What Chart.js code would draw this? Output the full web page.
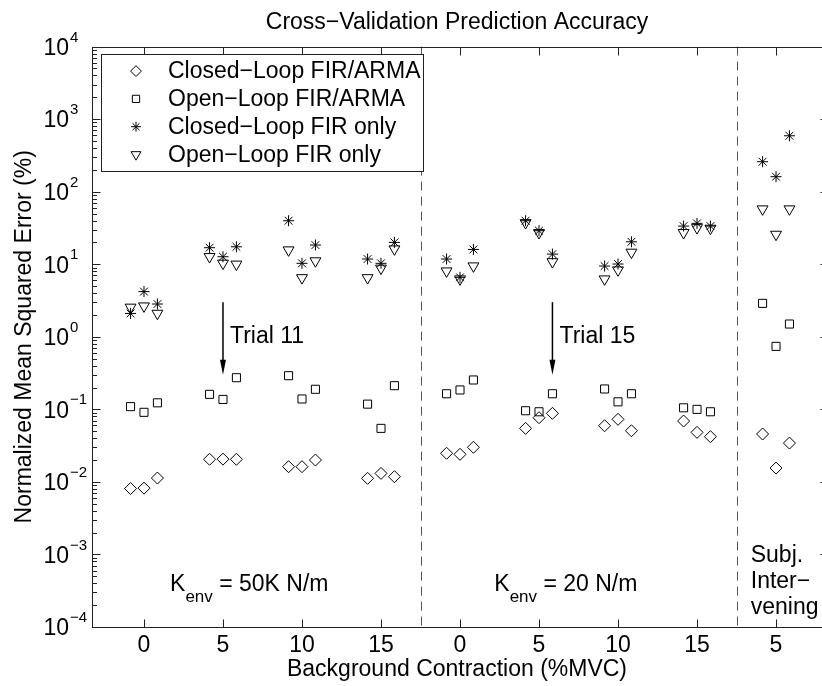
<!DOCTYPE html>
<html><head><meta charset="utf-8">
<script src="https://cdn.jsdelivr.net/npm/chart.js@4.4.1/dist/chart.umd.min.js"></script>
<style>
html,body{margin:0;padding:0;background:#fff;overflow:hidden;}
canvas{display:block;}
</style></head><body>
<canvas id="c" width="822" height="686" style="width:822px;height:686px"></canvas>
<script>
// ---- data ----
const groupLabels = ['0','5','10','15','0','5','10','15','5'];
const groupPositions = [1,2,3,4,5,6,7,8,9];
const trialOffsets = [-0.17, 0, 0.17];
const groupSeparators = [4.5, 8.5];
const yDecades = [-4,-3,-2,-1,0,1,2,3,4];
const xVisibleRange = [0.342, 9.582];   // part of the axes visible in the window
const axisFrameMax = 9.658;             // right axis edge (just outside the window)

const seriesNames = [
  'Closed\u2212Loop FIR/ARMA',
  'Open\u2212Loop FIR/ARMA',
  'Closed\u2212Loop FIR only',
  'Open\u2212Loop FIR only'
];

// values per group (9 groups x 3 trials), in % NMSE
const closedLoopArma = [
  [0.0081, 0.0082, 0.0113],
  [0.0205, 0.0206, 0.0205],
  [0.0162, 0.0162, 0.0200],
  [0.0112, 0.0131, 0.0118],
  [0.0248, 0.0240, 0.0300],
  [0.0547, 0.0767, 0.0881],
  [0.0594, 0.0729, 0.0507],
  [0.0690, 0.0482, 0.0420],
  [0.0457, 0.0155, 0.0343]
];
const openLoopArma = [
  [0.109, 0.091, 0.123],
  [0.161, 0.137, 0.273],
  [0.291, 0.139, 0.189],
  [0.118, 0.0547, 0.212],
  [0.164, 0.185, 0.254],
  [0.0957, 0.0926, 0.164],
  [0.191, 0.127, 0.164],
  [0.105, 0.100, 0.0926],
  [2.89, 0.738, 1.50]
];
const closedLoopFir = [
  [2.1, 4.2, 2.83],
  [16.9, 12.7, 17.4],
  [39.8, 10.3, 18.4],
  [11.8, 10.3, 20.0],
  [11.8, 6.6, 16.0],
  [39.8, 29.0, 13.8],
  [9.45, 10.07, 20.4],
  [33.6, 36.6, 33.6],
  [259, 161, 590]
];
const openLoopFir = [
  [2.55, 2.65, 2.1],
  [12.7, 10.3, 10.0],
  [15.7, 6.5, 11.1],
  [6.5, 8.8, 16.2],
  [8.05, 6.25, 9.45],
  [37.3, 27.2, 10.8],
  [6.25, 8.32, 14.6],
  [27.2, 31.8, 31.2],
  [57.7, 25.8, 57.7]
];

const arrowNotes = [
  {label:'Trial 11', x:2, from:3, to:0.3, textY:1},
  {label:'Trial 15', x:6.17, from:3, to:0.3, textY:1}
];
const regionNotes = [
  {main:'K', sub:'env', rest:' = 50K N/m', x:1.33, y:4e-4},
  {main:'K', sub:'env', rest:' = 20 N/m', x:5.434, y:4e-4}
];
const subjNote = {lines:['Subj.','Inter\u2212','vening'], x:8.68, y:1e-3};

// ---- build ----
const FONT = '"Liberation Sans", Arial, Helvetica, sans-serif';
function toPoints(values){
  const pts=[];
  values.forEach((trials,g)=>trials.forEach((v,t)=>pts.push({x:groupPositions[g]+trialOffsets[t], y:v})));
  return pts;
}
const markerStyles = [
  {style:'rectRot', radius:6, rotation:0},
  {style:'rect', radius:5.7, rotation:0},
  {style:'star', radius:5.5, rotation:0},
  {style:'triangle', radius:6.3, rotation:180}
];
const seriesValues = [closedLoopArma, openLoopArma, closedLoopFir, openLoopFir];
const datasets = seriesValues.map((vals,i)=>({
  label: seriesNames[i],
  data: toPoints(vals),
  pointStyle: markerStyles[i].style,
  pointRadius: markerStyles[i].radius,
  pointRotation: markerStyles[i].rotation,
  pointBorderWidth: 1,
  pointBorderColor: '#000',
  pointBackgroundColor: 'rgba(0,0,0,0)',
  borderColor: '#000',
  backgroundColor: 'rgba(0,0,0,0)',
  showLine: false
}));

function drawMarker(ctx, style, r, x, y){
  ctx.beginPath();
  if(style==='rectRot'){
    ctx.moveTo(x-r,y); ctx.lineTo(x,y-r); ctx.lineTo(x+r,y); ctx.lineTo(x,y+r); ctx.closePath();
  } else if(style==='rect'){
    const s=r*Math.SQRT1_2; ctx.rect(x-s,y-s,2*s,2*s);
  } else if(style==='star'){
    for(let k=0;k<4;k++){const a=k*Math.PI/4; ctx.moveTo(x-Math.cos(a)*r,y-Math.sin(a)*r); ctx.lineTo(x+Math.cos(a)*r,y+Math.sin(a)*r);}
  } else if(style==='triangle'){
    ctx.moveTo(x, y+r); ctx.lineTo(x-r*Math.sin(Math.PI/3), y-r/2); ctx.lineTo(x+r*Math.sin(Math.PI/3), y-r/2); ctx.closePath();
  }
  ctx.stroke();
}

const framePlugin = {
  id:'frame',
  afterLayout(chart){
    // let the plot area reach the right edge of the window
    const a=chart.chartArea, x=chart.scales.x, full=chart.width;
    const d=full-a.right;
    if(d>0.5 && x && typeof x.configure==='function'){
      a.right=full; a.width=a.right-a.left;
      x.right=full; x.width=x.right-x.left;
      x.configure();
      if(chart.titleBlock){chart.titleBlock.right+=d; chart.titleBlock.width+=d;}
    }
  },
  beforeDatasetsDraw(chart){
    const {ctx, chartArea:a, scales:{x}} = chart;
    ctx.save();
    ctx.strokeStyle='#555'; ctx.lineWidth=1; ctx.setLineDash([9,6]);
    groupSeparators.forEach(v=>{
      const px=Math.round(x.getPixelForValue(v))+0.5;
      ctx.beginPath(); ctx.moveTo(px,a.top); ctx.lineTo(px,a.bottom); ctx.stroke();
    });
    ctx.restore();
  },
  afterDatasetsDraw(chart){
    const {ctx, chartArea:a, scales:{x,y}} = chart;
    ctx.save();
    const L=Math.round(a.left)+0.5, R=Math.round(x.getPixelForValue(axisFrameMax))+0.5, T=Math.round(a.top)+0.5, B=Math.round(a.bottom)+0.5;
    ctx.strokeStyle='#222'; ctx.lineWidth=1;
    ctx.strokeRect(L,T,R-L,B-T);
    // x ticks (bottom and top, inward)
    ctx.beginPath();
    groupPositions.forEach(v=>{
      const px=Math.round(x.getPixelForValue(v))+0.5;
      ctx.moveTo(px,B); ctx.lineTo(px,B-8);
      ctx.moveTo(px,T); ctx.lineTo(px,T+8);
    });
    // y ticks major + minor
    yDecades.forEach(k=>{
      const py=Math.round(y.getPixelForValue(Math.pow(10,k)))+0.5;
      ctx.moveTo(L,py); ctx.lineTo(L+8,py);
      ctx.moveTo(R,py); ctx.lineTo(R-8,py);
      if(k<4){
        for(let m=2;m<=9;m++){
          const pm=Math.round(y.getPixelForValue(m*Math.pow(10,k)))+0.5;
          ctx.moveTo(L,pm); ctx.lineTo(L+4.5,pm);
          ctx.moveTo(R,pm); ctx.lineTo(R-4.5,pm);
        }
      }
    });
    ctx.stroke();
    // y tick labels with superscript
    ctx.fillStyle='#000';
    yDecades.forEach(k=>{
      const py=y.getPixelForValue(Math.pow(10,k));
      ctx.font='23px '+FONT; ctx.textAlign='right'; ctx.textBaseline='middle';
      ctx.fillText('10', a.left-23, py+2);
      ctx.font='15px '+FONT; ctx.textAlign='left';
      ctx.fillText(k<0?'\u2212'+(-k):String(k), a.left-22, py-9);
    });
    // arrows
    arrowNotes.forEach(n=>{
      const px=x.getPixelForValue(n.x);
      const y0=y.getPixelForValue(n.from), y1=y.getPixelForValue(n.to);
      ctx.strokeStyle='#000'; ctx.lineWidth=1.5;
      ctx.beginPath(); ctx.moveTo(px,y0); ctx.lineTo(px,y1-12); ctx.stroke();
      ctx.fillStyle='#000';
      ctx.beginPath(); ctx.moveTo(px,y1); ctx.lineTo(px-3,y1-15); ctx.lineTo(px+3,y1-15); ctx.closePath(); ctx.fill();
      ctx.font='23px '+FONT; ctx.textAlign='left'; ctx.textBaseline='middle';
      ctx.fillText(n.label, px+7, y.getPixelForValue(n.textY));
    });
    // region notes
    regionNotes.forEach(n=>{
      let px=x.getPixelForValue(n.x);
      const base=y.getPixelForValue(n.y)+8;
      ctx.textAlign='left'; ctx.textBaseline='alphabetic'; ctx.fillStyle='#000';
      ctx.font='23px '+FONT; ctx.fillText(n.main,px,base); px+=ctx.measureText(n.main).width;
      ctx.font='17px '+FONT; ctx.fillText(n.sub,px,base+11); px+=ctx.measureText(n.sub).width;
      ctx.font='23px '+FONT; ctx.fillText(n.rest,px,base);
    });
    // subject note
    {
      const px=x.getPixelForValue(subjNote.x);
      const p0=y.getPixelForValue(subjNote.y);
      ctx.font='23px '+FONT; ctx.textAlign='left'; ctx.textBaseline='middle';
      subjNote.lines.forEach((s,i)=>ctx.fillText(s,px,p0+1+i*26));
    }
    // legend
    {
      const bx=Math.round(a.left+9)+0.5, by=Math.round(a.top+7)+0.5, bw=322, bh=117;
      ctx.fillStyle='#fff'; ctx.fillRect(bx,by,bw,bh);
      ctx.strokeStyle='#222'; ctx.lineWidth=1; ctx.strokeRect(bx,by,bw,bh);
      chart.data.datasets.forEach((ds,i)=>{
        const ry=a.top+24.5+i*27.8;
        ctx.strokeStyle='#000'; ctx.lineWidth=1; ctx.setLineDash([]);
        drawMarker(ctx, markerStyles[i].style, markerStyles[i].radius*0.9, a.left+44, ry);
        ctx.fillStyle='#000'; ctx.font='23px '+FONT; ctx.textAlign='left'; ctx.textBaseline='middle';
        ctx.fillText(ds.label, a.left+76, ry+1);
      });
    }
    ctx.restore();
  }
};

new Chart(document.getElementById('c'), {
  type:'scatter',
  data:{datasets},
  options:{
    responsive:false, maintainAspectRatio:false, animation:false, devicePixelRatio:1,
    events:[],
    layout:{padding:{left:0,right:0,top:0,bottom:0}},
    plugins:{
      legend:{display:false},
      tooltip:{enabled:false},
      title:{display:true, fullSize:false, text:'Cross\u2212Validation Prediction Accuracy',
        color:'#000', font:{family:FONT,size:23,weight:'normal',lineHeight:1.2}, padding:{top:9,bottom:10}}
    },
    scales:{
      x:{type:'linear', min:xVisibleRange[0], max:xVisibleRange[1],
        grid:{display:false, drawTicks:false}, border:{display:false},
        afterBuildTicks:s=>{s.ticks=groupPositions.map(v=>({value:v}));},
        afterFit:s=>{s.height=59; s.paddingLeft=0; s.paddingRight=0;},
        ticks:{autoSkip:false, maxRotation:0, padding:5, color:'#000', font:{family:FONT,size:23,lineHeight:1.2},
          callback:v=>{const i=groupPositions.indexOf(v); return i>=0?groupLabels[i]:'';}},
        title:{display:true, text:'Background Contraction (%MVC)', color:'#000',
          font:{family:FONT,size:23,lineHeight:1.2}, padding:{top:0,bottom:3}}
      },
      y:{type:'logarithmic', min:1e-4, max:1e4,
        grid:{display:false, drawTicks:false}, border:{display:false},
        ticks:{display:false},
        afterFit:s=>{s.width=92; s.paddingTop=0; s.paddingBottom=0;},
        title:{display:true, text:'Normalized Mean Squared Error (%)', color:'#000',
          font:{family:FONT,size:23,lineHeight:1.2}, padding:{top:11,bottom:0}}
      }
    }
  },
  plugins:[framePlugin]
});
</script>
</body></html>
